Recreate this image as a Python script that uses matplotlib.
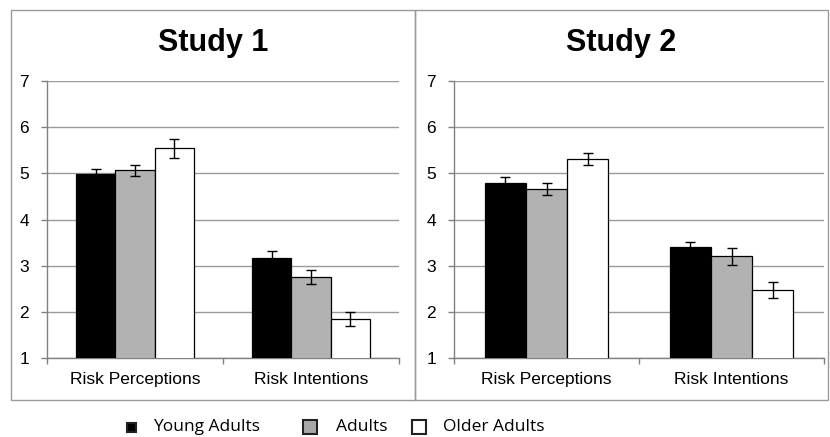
import matplotlib
matplotlib.use("Agg")
import matplotlib.pyplot as plt
from matplotlib.patches import Rectangle
import numpy as np

plt.rcParams['font.family'] = ['Liberation Sans', 'DejaVu Sans']

categories = ["Risk Perceptions", "Risk Intentions"]
groups = ["Young Adults", "Adults", "Older Adults"]
studies = ["Study 1", "Study 2"]

study1_means = {"Young Adults": [4.98, 3.16], "Adults": [5.07, 2.75], "Older Adults": [5.54, 1.84]}
study1_errs = {"Young Adults": [0.11, 0.15], "Adults": [0.12, 0.15], "Older Adults": [0.21, 0.15]}
study2_means = {"Young Adults": [4.80, 3.40], "Adults": [4.65, 3.20], "Older Adults": [5.31, 2.47]}
study2_errs = {"Young Adults": [0.11, 0.12], "Adults": [0.13, 0.18], "Older Adults": [0.14, 0.17]}

yticks = [1, 2, 3, 4, 5, 6, 7]
colors = {"Young Adults": "#000000", "Adults": "#b2b2b2", "Older Adults": "#ffffff"}

W, H = 830, 437
fig = plt.figure(figsize=(W / 100, H / 100), dpi=100)

def fx(px):
    return px / W

def fy(py):
    return 1 - py / H

# panel frames
frames = [(11, 10, 415, 400), (415, 10, 828, 400)]
for (x0, y0, x1, y1) in frames:
    fig.patches.append(Rectangle((fx(x0), fy(y1)), fx(x1 - x0), (y1 - y0) / H,
                                 transform=fig.transFigure, fill=False,
                                 edgecolor="#9a9a9a", linewidth=1.0, zorder=0))

axes_px = [(47, 399), (454, 824)]
y_top, y_bot = 81, 358
title_centers = [213, 621]

data = [(study1_means, study1_errs), (study2_means, study2_errs)]
bw = 0.222
for i, (ax_x, (means, errs)) in enumerate(zip(axes_px, data)):
    ax = fig.add_axes([fx(ax_x[0]), fy(y_bot), fx(ax_x[1] - ax_x[0]), (y_bot - y_top) / H])
    x = np.arange(len(categories)) + 0.5
    for j, g in enumerate(groups):
        ax.bar(x + (j - 1) * bw, means[g], width=bw, color=colors[g],
               edgecolor="#000000", linewidth=0.9, zorder=3,
               yerr=errs[g], capsize=3.5,
               error_kw=dict(ecolor="#000000", elinewidth=1.0, capthick=1.0, zorder=4))
    ax.set_xlim(0, len(categories))
    ax.set_ylim(1, 7)
    ax.set_yticks(yticks)
    ax.set_yticklabels([str(t) for t in yticks], fontsize=12.5)
    ax.set_xticks(x)
    ax.set_xticklabels(categories, fontsize=12.5)
    ax.set_xticks(np.arange(len(categories) + 1), minor=True)
    ax.tick_params(axis='x', which='major', length=0, pad=10)
    ax.tick_params(axis='x', which='minor', length=4, color="#808080", width=1)
    ax.tick_params(axis='y', length=4, color="#808080", width=1, pad=9)
    ax.grid(axis='y', color="#9a9a9a", linewidth=1.0, zorder=0)
    ax.set_axisbelow(True)
    for s in ["top", "right"]:
        ax.spines[s].set_visible(False)
    for s in ["left", "bottom"]:
        ax.spines[s].set_color("#808080")
        ax.spines[s].set_linewidth(1.0)
    ax.set_facecolor("none")
    fig.text(fx(title_centers[i]), fy(43), studies[i], ha="center", va="center",
             fontsize=22, fontweight="bold")

# legend
leg_items = [(127, 153, 9), (303, 336, 14), (412, 443, 14)]
for g, (sx, tx, size) in zip(groups, leg_items):
    cy = 427
    fig.patches.append(Rectangle((fx(sx), fy(cy + size / 2)), fx(size), size / H,
                                 transform=fig.transFigure, facecolor=colors[g] if g != "Adults" else "#a8a8a8",
                                 edgecolor="#222222", linewidth=1.5))
    fig.text(fx(tx), fy(cy), g, ha="left", va="center", fontsize=12.5,
             family=["Open Sans", "DejaVu Sans"])

fig.savefig("out.png", dpi=100)
